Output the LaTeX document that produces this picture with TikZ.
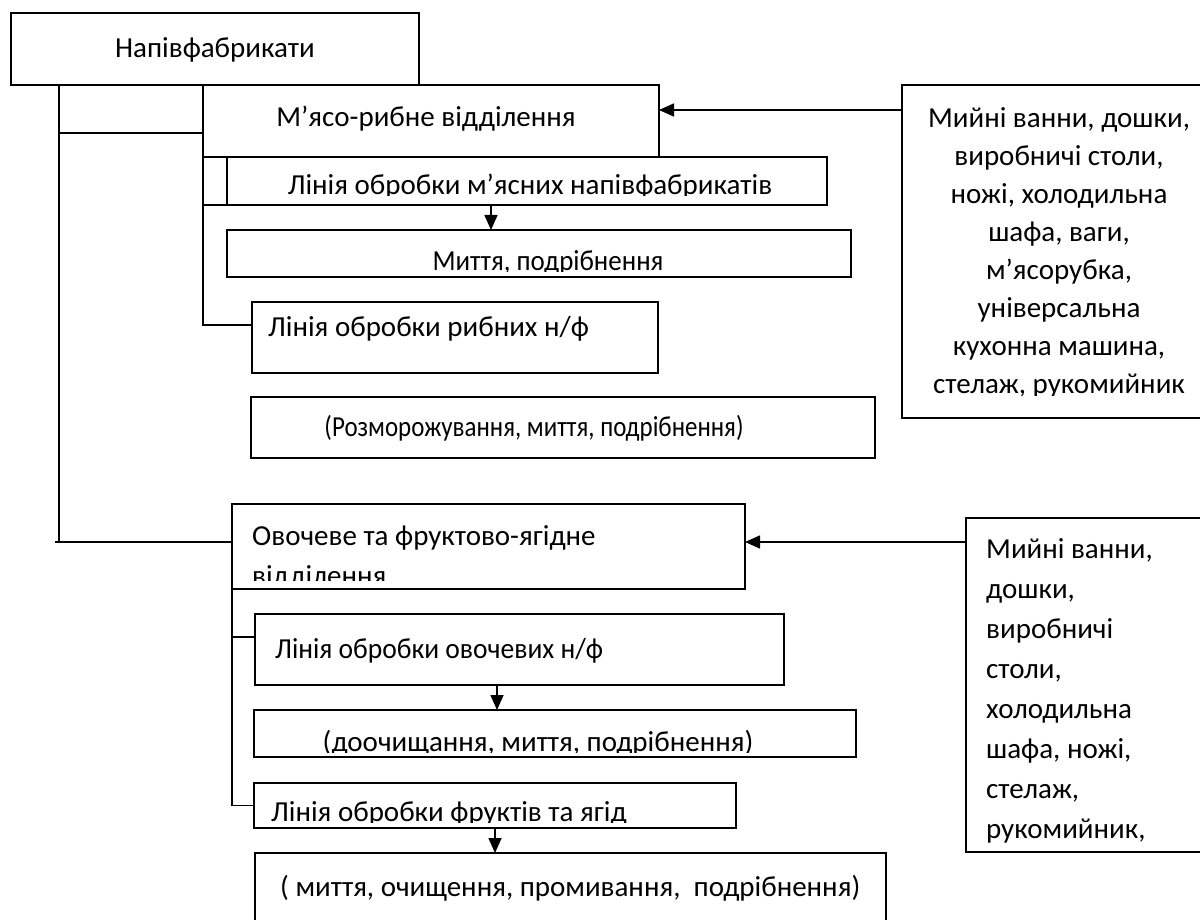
\documentclass[tikz,border=0pt]{standalone}
\usepackage{fontspec}
\setmainfont{Carlito}
\usetikzlibrary{arrows.meta}
\newcommand\mkbox[5]{\node[bx, minimum width={(#4)-(#2)}, minimum height={(#5)-(#3)}] (#1) at ({((#2)+(#4))/2},{((#3)+(#5))/2}) {};}
\newcommand\mklines[2]{\begin{tabular}[t]{@{}#1@{}}#2\end{tabular}}
\begin{document}
\begin{tikzpicture}[x=1pt,y=-1pt,
  bx/.style={draw, line width=1.6pt, inner sep=0pt, outer sep=0pt},
  ln/.style={line width=1.6pt},
  arr/.style={line width=1.6pt, -{Triangle[length=15pt,width=13pt]}},
  txt/.style={inner sep=0pt, font=\fontsize{29}{38}\selectfont},
  txtb/.style={inner sep=0pt, font=\fontsize{29}{40}\selectfont},
]
\useasboundingbox (0,0) rectangle (1200,920);
\fill[white] (0,0) rectangle (1200,920);

% boxes
\mkbox{A}{11}{13}{419}{85}
\mkbox{B}{203}{85}{659}{157}
\mkbox{C}{227}{157}{827}{205}
\mkbox{D}{227}{230}{851}{277}
\mkbox{E}{252}{302}{658}{373}
\mkbox{F}{251}{397}{875}{458}
\mkbox{G}{232}{504}{745}{589}
\mkbox{H}{255}{614}{784}{685}
\mkbox{I}{254}{710}{856}{757}
\mkbox{J}{254}{783}{736}{828}
\mkbox{K}{255}{853}{886}{935}
\mkbox{R1}{902}{85}{1215}{418}
\mkbox{R2}{966}{518}{1215}{852}

% texts
\node[txt, anchor=base] (At) at (215,58) {Напівфабрикати};
\node[txt, anchor=base] (Bt) at (426,127) {М’ясо-рибне відділення};
\begin{scope}
  \clip (227,157) rectangle (827,196);
  \node[txt, anchor=base] (Ct) at (530,195) {Лінія обробки м’ясних напівфабрикатів};
\end{scope}
\begin{scope}
  \clip (227,230) rectangle (851,272);
  \node[txt, anchor=base] (Dt) at (548,271) {\scalebox{0.93}[1]{Миття, подрібнення}};
\end{scope}
\node[txt, anchor=base west] (Et) at (268,336) {Лінія обробки рибних н/ф};
\node[txt, anchor=base] (Ft) at (534,436) {\scalebox{0.86}[1]{(Розморожування, миття, подрібнення)}};
\begin{scope}
  \clip (232,504) rectangle (745,580);
  \node[txtb, anchor=base west] (Gt) at (252,545) {\mklines{l}{Овочеве та фруктово-ягідне\\відділення}};
\end{scope}
\node[txt, anchor=base west] (Ht) at (275,658) {\scalebox{0.95}[1]{Лінія обробки овочевих н/ф}};
\begin{scope}
  \clip (254,710) rectangle (856,752);
  \node[txt, anchor=base] (It) at (538,751) {(доочищання, миття, подрібнення)};
\end{scope}
\begin{scope}
  \clip (254,783) rectangle (736,822);
  \node[txt, anchor=base west] (Jt) at (271,821) {Лінія обробки фруктів та ягід};
\end{scope}
\node[txt, anchor=base west] (Kt) at (280,896) {( миття, очищення, промивання,\ \ подрібнення)};
\begin{scope}
  \clip (902,85) rectangle (1215,395);
  \node[txt, anchor=base] (R1t) at (1059,128) {\mklines{c}{Мийні ванни, дошки,\\виробничі столи,\\ножі, холодильна\\шафа, ваги,\\м’ясорубка,\\універсальна\\кухонна машина,\\стелаж, рукомийник}};
\end{scope}
\node[txtb, anchor=base west] (R2t) at (986,558) {\mklines{l}{Мийні ванни,\\дошки,\\виробничі\\столи,\\холодильна\\шафа, ножі,\\стелаж,\\рукомийник,}};

% connectors
\coordinate (t1) at (59,85);
\coordinate (t1m) at (59,133);
\coordinate (t1b) at (59,542);
\coordinate (t1l) at (55,542);
\draw[ln] (t1) -- (t1b);
\draw[ln] (t1l) -- (G.west |- t1b);
\draw[ln] (t1m) -- (B.west |- t1m);
\coordinate (t2) at (203,325);
\draw[ln] (B.south west) -- (t2) -- (E.west |- t2);
\draw[ln] (B.south west |- C.south) -- (C.south west);
\coordinate (t3) at (232,637);
\draw[ln] (G.south west) |- (J.west);
\draw[ln] (t3) -- (H.west |- t3);

% arrows
\coordinate (a1) at (0,110);
\draw[arr] (R1.west |- a1) -- (B.east |- a1);
\coordinate (a2) at (491,0);
\draw[arr] (C.south -| a2) -- (D.north -| a2);
\coordinate (a3) at (0,542);
\draw[arr] (R2.west |- a3) -- (G.east |- a3);
\coordinate (a4) at (497,0);
\draw[arr] (H.south -| a4) -- (I.north -| a4);
\coordinate (a5) at (495,0);
\draw[arr] (J.south -| a5) -- (K.north -| a5);
\end{tikzpicture}
\end{document}
